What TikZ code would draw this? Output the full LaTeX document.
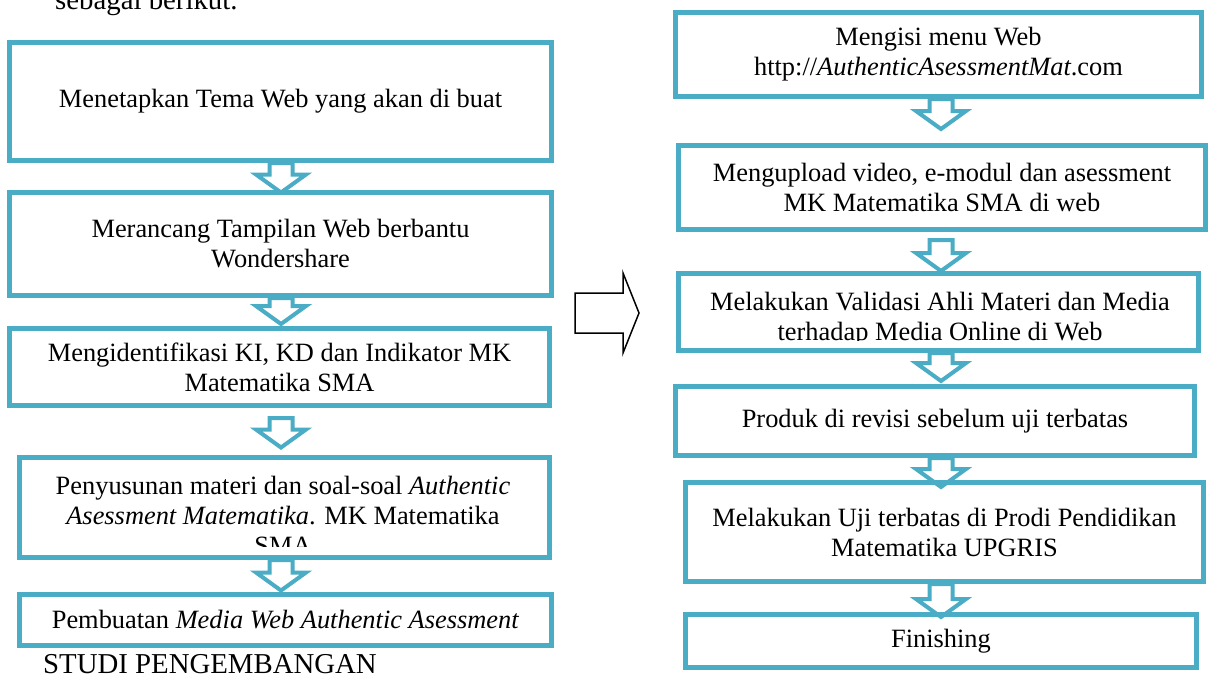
\documentclass[tikz,border=0pt]{standalone}
\usepackage{fontspec}
\setmainfont{Liberation Serif}
\usetikzlibrary{calc}
\definecolor{acc}{HTML}{4BACC6}
\pgfdeclarelayer{bg}
\pgfdeclarelayer{canvas}
\pgfsetlayers{canvas,bg,main}
\newcommand\flowarrow[5]{%
  \path (#1 |- #2.south) coordinate (at-top) (#1 |- #3.north) coordinate (at-tip);
  \draw[blockarrow] ($(at-top)+(-11.5,#4)$) -- ($(at-tip)+(-11.5,#5-18)$) -- ($(at-tip)+(-25,#5-18)$) -- ($(at-tip)+(0,#5)$) -- ($(at-tip)+(25,#5-18)$) -- ($(at-tip)+(11.5,#5-18)$) -- ($(at-top)+(11.5,#4)$) -- cycle;
}
\begin{document}
\begin{tikzpicture}[x=1pt,y=-1pt,
  box/.style={draw=acc, line width=5pt, inner sep=0pt, align=center,
    font=\fontsize{26.4}{30}\selectfont},
  blockarrow/.style={draw=acc, line width=4pt, fill=white},
  lbl/.style={inner sep=0pt, align=center, font=\fontsize{26.4}{30}\selectfont},
  outer/.style={inner sep=0pt, anchor=base west, font=\fontsize{28.8}{34}\selectfont}]
\useasboundingbox (0,0) rectangle (1209,677);
\begin{pgfonlayer}{canvas}
\fill[white] (0,0) rectangle (1209,677);
\end{pgfonlayer}

\coordinate (lc) at (281,0);
\coordinate (rc) at (941,0);

% left column
\node[box, minimum width=542pt, minimum height=118pt] (b1) at (280.5,101.5) {Menetapkan Tema Web yang akan di buat};
\node[box, minimum width=542pt, minimum height=103pt] (b2) at (280.5,244) {Merancang Tampilan Web berbantu\\Wondershare};
\node[box, minimum width=540pt, minimum height=77pt] (b3) at (279.5,367) {Mengidentifikasi KI, KD dan Indikator MK\\Matematika SMA};
\node[box, minimum width=530pt, minimum height=100pt] (b4) at (284.5,507.5) {};
\begin{scope}
  \clip (20,458) rectangle (550,546);
  \node[lbl] (t4) at (283,515) {Penyusunan materi dan soal-soal \textit{Authentic}\\\textit{Asessment Matematika}. MK Matematika\\SMA};
\end{scope}
\node[box, minimum width=532pt, minimum height=51pt] (b5) at (285.5,620) {Pembuatan \textit{Media Web Authentic Asessment}};

% right column
\node[box, minimum width=526pt, minimum height=84pt] (r1) at (938.5,54.5) {Mengisi menu Web\\http://\textit{AuthenticAsessmentMat}.com};
\node[box, minimum width=527pt, minimum height=84pt] (r2) at (942,187.5) {Mengupload video, e-modul dan asessment\\MK Matematika SMA di web};
\node[box, minimum width=520pt, minimum height=77pt] (r3) at (938.5,312) {};
\begin{scope}
  \clip (679,274) rectangle (1198,340);
  \node[lbl] (t3) at (940,319) {Melakukan Validasi Ahli Materi dan Media\\terhadap Media Online di Web};
\end{scope}
\node[box, minimum width=519pt, minimum height=69pt] (r4) at (935,421) {Produk di revisi sebelum uji terbatas};
\node[box, minimum width=518pt, minimum height=99pt] (r5) at (944.5,532) {Melakukan Uji terbatas di Prodi Pendidikan\\Matematika UPGRIS};
\node[box, minimum width=511pt, minimum height=53pt] (r6) at (941,641) {Finishing};

% block arrows (behind the boxes)
\begin{pgfonlayer}{bg}
\flowarrow{lc}{b1}{b2}{0}{2.5}
\flowarrow{lc}{b2}{b3}{0}{-2}
\flowarrow{lc}{b3}{b4}{10}{-7.5}
\flowarrow{lc}{b4}{b5}{0}{-1.5}
\flowarrow{rc}{r1}{r2}{0}{-14}
\flowarrow{rc}{r2}{r3}{8}{0}
\flowarrow{rc}{r3}{r4}{0}{-3}
\flowarrow{rc}{r4}{r5}{0}{7}
\flowarrow{rc}{r5}{r6}{0}{5}
\end{pgfonlayer}

% big hollow arrow between columns
\draw[line width=1.5pt, line join=miter] (575,293) -- (623,293) -- (623,273) -- (639,313) -- (623,353) -- (623,333) -- (575,333) -- cycle;

% outside text
\node[outer] (intro) at (55,10) {sebagai berikut.};
\node[outer] (studi) at (43,673) {STUDI PENGEMBANGAN};
\end{tikzpicture}
\end{document}
